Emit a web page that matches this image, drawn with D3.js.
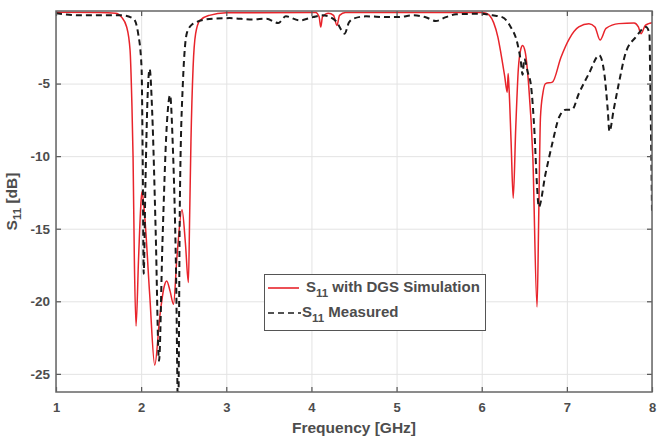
<!DOCTYPE html>
<html>
<head>
<meta charset="utf-8">
<script src="https://cdn.jsdelivr.net/npm/d3@7"></script>
<style>
  body { margin: 0; background: #fff; }
  text { font-family: "Liberation Sans", Arial, sans-serif; font-weight: bold; fill: #4d4d4d; }
  .grid line { stroke: #e3e3e3; stroke-width: 1; }
  .grid path { display: none; }
  .ax path { display: none; }
  .ax line { stroke: #555; stroke-width: 1.2; }
</style>
</head>
<body>
<div id="chart"></div>
<script>
// tick labels
var xTicks = [1, 2, 3, 4, 5, 6, 7, 8];
var yTicks = [-25, -20, -15, -10, -5];

// S11 with DGS simulation (red)
var simFreq = [1.00, 1.50, 1.70, 1.77, 1.83, 1.87, 1.89, 1.905, 1.92, 1.94, 1.97, 2.00, 2.01, 2.04, 2.10, 2.16,
  2.22, 2.27, 2.30, 2.34, 2.38, 2.42, 2.48, 2.52, 2.555, 2.57, 2.585, 2.61, 2.64, 2.69, 2.80, 3.00,
  4.05, 4.09, 4.11, 4.13, 4.20, 4.26, 4.30, 4.33, 4.40, 6.00, 6.05, 6.09, 6.14, 6.19, 6.225, 6.27,
  6.30, 6.31, 6.32, 6.345, 6.37, 6.40, 6.43, 6.46, 6.48, 6.51, 6.55, 6.60, 6.65, 6.67, 6.69, 6.72,
  6.75, 6.83, 6.93, 7.03, 7.14, 7.26, 7.33, 7.39, 7.46, 7.61, 7.79, 7.84, 7.87, 7.92, 7.96, 8.00];
var simS11 = [-0.08, -0.1, -0.15, -0.42, -1.1, -2.7, -6.1, -10, -17, -21.7, -17, -13, -12.45, -14, -19.5, -24.4,
  -21, -19, -18.6, -19.3, -20.2, -17, -13.7, -16, -18.7, -14, -9, -3.9, -1.56, -0.65, -0.3, -0.12,
  -0.1, -0.4, -1.1, -0.4, -0.15, -0.3, -1.0, -0.3, -0.1, -0.1, -0.15, -0.3, -0.8, -1.8, -2.9, -4.5,
  -5.6, -4.3, -5.2, -9, -12.9, -8, -4, -2.6, -2.37, -2.8, -5, -10, -20.4, -14, -7.3, -5.6,
  -5.0, -4.9, -3.2, -1.9, -1.1, -0.87, -1.1, -2.0, -1.2, -0.87, -0.83, -1.1, -1.56, -1.0, -0.87, -0.8];

// S11 measured (black dashed)
var measFreq = [1.00, 1.30, 1.55, 1.77, 1.91, 1.965, 2.005, 2.018, 2.03, 2.05, 2.075, 2.10, 2.13, 2.17, 2.21,
  2.25, 2.30, 2.34, 2.37, 2.41, 2.435, 2.455, 2.49, 2.54, 2.61, 2.65, 2.84, 3.04, 3.31, 3.47, 3.61,
  3.70, 3.86, 4.02, 4.13, 4.29, 4.35, 4.39, 4.44, 4.49, 4.64, 4.88, 5.03, 5.19, 5.35, 5.46, 5.58,
  5.70, 5.97, 6.13, 6.24, 6.34, 6.42, 6.46, 6.48, 6.50, 6.54, 6.58, 6.62, 6.65, 6.67, 6.75, 6.83,
  6.91, 6.99, 7.06, 7.14, 7.26, 7.38, 7.44, 7.48, 7.50, 7.55, 7.61, 7.69, 7.81, 7.93, 7.97, 7.98, 8.00];
var measS11 = [-0.15, -0.3, -0.3, -0.3, -0.53, -1.56, -3.9, -10, -18.1, -12, -6, -4.0, -7, -15, -24.1,
  -16, -8, -5.8, -9, -18, -28, -13, -5, -1.45, -0.87, -0.76, -0.53, -0.49, -0.58, -0.53, -0.83,
  -0.37, -0.65, -0.42, -0.3, -0.7, -1.3, -1.56, -0.8, -0.53, -0.37, -0.42, -0.42, -0.3, -0.45, -0.69, -0.42,
  -0.23, -0.19, -0.3, -0.42, -1.1, -2.25, -3.5, -4.4, -3.3, -4.2, -5.2, -8.4, -12.1, -13.5, -11.2, -9.1,
  -7.3, -6.8, -6.8, -5.7, -4.3, -3.05, -4.3, -6.8, -8.3, -6.8, -5.0, -2.9, -1.8, -1.1, -1.56, -5, -13.8];

var seriesNames = ["with DGS Simulation", "Measured"];

var w = 660, h = 438;
var padL = 56, padR = 652, padT = 11, padB = 392;

var svg = d3.select("#chart").append("svg")
  .attr("width", w)
  .attr("height", h);

var xScale = d3.scaleLinear().domain([1, 8]).range([padL, padR]);
var yScale = d3.scaleLinear().domain([-26.25, 0]).range([padB, padT]);

// grid
svg.append("g").attr("class", "grid")
  .attr("transform", "translate(0," + padB + ")")
  .call(d3.axisBottom(xScale).tickValues(xTicks).tickSize(-(padB - padT)).tickFormat(""));
svg.append("g").attr("class", "grid")
  .attr("transform", "translate(" + padL + ",0)")
  .call(d3.axisLeft(yScale).tickValues(yTicks).tickSize(-(padR - padL)).tickFormat(""));

// curves
svg.append("clipPath").attr("id", "clip")
  .append("rect").attr("x", padL).attr("y", padT)
  .attr("width", padR - padL).attr("height", padB - padT);

var line = d3.line()
  .x(function(d) { return xScale(d[0]); })
  .y(function(d) { return yScale(d[1]); })
  .curve(d3.curveMonotoneX);

svg.append("path")
  .datum(d3.zip(simFreq, simS11))
  .attr("clip-path", "url(#clip)")
  .attr("d", line)
  .attr("fill", "none")
  .attr("stroke", "#e8242b")
  .attr("stroke-width", 1.5);

svg.append("path")
  .datum(d3.zip(measFreq, measS11))
  .attr("clip-path", "url(#clip)")
  .attr("d", line)
  .attr("fill", "none")
  .attr("stroke", "#1a1a1a")
  .attr("stroke-width", 2)
  .attr("stroke-dasharray", "6,4");

// axes (ticks inward on all four sides)
var fmt = function(d) { return String(d); };

var xAxis = svg.append("g").attr("class", "ax")
  .attr("transform", "translate(0," + padB + ")")
  .call(d3.axisBottom(xScale).tickValues(xTicks).tickSize(-5).tickPadding(11).tickFormat(fmt));
xAxis.selectAll("text").style("font-size", "13px").attr("fill", "#4d4d4d");

svg.append("g").attr("class", "ax")
  .attr("transform", "translate(0," + padT + ")")
  .call(d3.axisTop(xScale).tickValues(xTicks).tickSize(-5).tickFormat(""));

var yAxis = svg.append("g").attr("class", "ax")
  .attr("transform", "translate(" + padL + ",0)")
  .call(d3.axisLeft(yScale).tickValues(yTicks).tickSize(-5).tickPadding(6).tickFormat(fmt));
yAxis.selectAll("text").style("font-size", "13.5px").attr("fill", "#4d4d4d");

svg.append("g").attr("class", "ax")
  .attr("transform", "translate(" + padR + ",0)")
  .call(d3.axisRight(yScale).tickValues(yTicks).tickSize(-5).tickFormat(""));

svg.append("rect")
  .attr("x", padL).attr("y", padT)
  .attr("width", padR - padL).attr("height", padB - padT)
  .attr("fill", "none")
  .attr("stroke", "#666")
  .attr("stroke-width", 1.5);

// axis labels
svg.append("text")
  .attr("x", (padL + padR) / 2)
  .attr("y", 433)
  .attr("text-anchor", "middle")
  .style("font-size", "15.5px")
  .text("Frequency [GHz]");

var yl = svg.append("text")
  .attr("transform", "translate(17," + ((padT + padB) / 2) + ") rotate(-90)")
  .attr("text-anchor", "middle")
  .style("font-size", "15.5px");
yl.append("tspan").text("S");
yl.append("tspan").attr("dy", 4).style("font-size", "11.5px").text("11");
yl.append("tspan").attr("dy", -4).text(" [dB]");

// legend
var lg = svg.append("g");
lg.append("rect")
  .attr("x", 264.5).attr("y", 274.5)
  .attr("width", 221).attr("height", 56)
  .attr("fill", "#fff")
  .attr("stroke", "#555")
  .attr("stroke-width", 1);

lg.append("line")
  .attr("x1", 268).attr("x2", 299).attr("y1", 288).attr("y2", 288)
  .attr("stroke", "#e8242b").attr("stroke-width", 1.6);
lg.append("line")
  .attr("x1", 268).attr("x2", 301).attr("y1", 313).attr("y2", 313)
  .attr("stroke", "#1a1a1a").attr("stroke-width", 1.6)
  .attr("stroke-dasharray", "6,4");

var legendX = [306, 302];
var legendY = [292, 317];
seriesNames.forEach(function(name, i) {
  var t = lg.append("text")
    .attr("x", legendX[i]).attr("y", legendY[i])
    .style("font-size", "15px")
    .attr("fill", "#333");
  t.append("tspan").text("S");
  t.append("tspan").attr("dy", 5).style("font-size", "11.5px").text("11");
  t.append("tspan").attr("dy", -5).text(" " + name);
});
</script>
</body>
</html>
